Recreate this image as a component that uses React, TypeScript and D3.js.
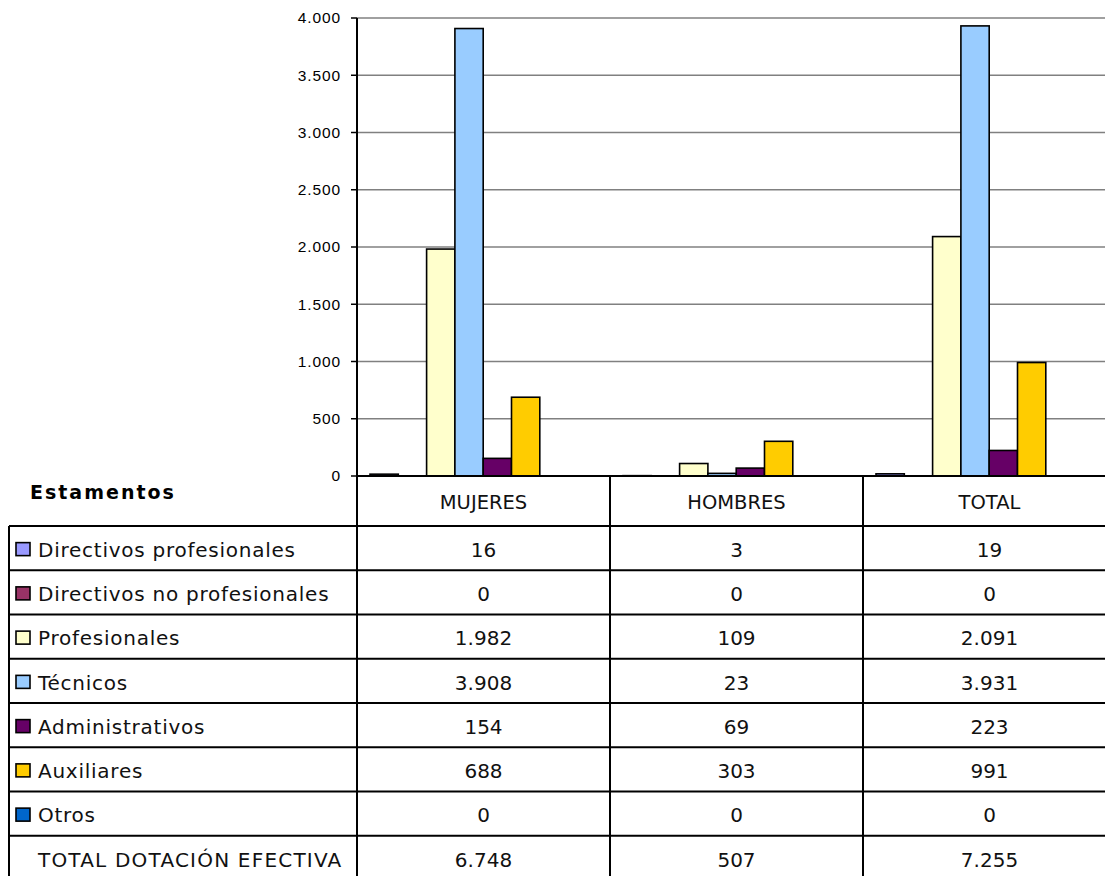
import React, { useEffect } from "react";
import * as d3 from "d3";

const categories = ["MUJERES", "HOMBRES", "TOTAL"];
const series = [
  "Directivos profesionales",
  "Directivos no profesionales",
  "Profesionales",
  "Técnicos",
  "Administrativos",
  "Auxiliares",
  "Otros",
];
const colors = ["#9999FF", "#993366", "#FFFFCC", "#99CCFF", "#660066", "#FFCC00", "#0066CC"];
// values[seriesIndex][categoryIndex]
const values = [
  [16, 3, 19],
  [0, 0, 0],
  [1982, 109, 2091],
  [3908, 23, 3931],
  [154, 69, 223],
  [688, 303, 991],
  [0, 0, 0],
];
const totalLabel = "TOTAL DOTACIÓN EFECTIVA";
const totals = [6748, 507, 7255];
const yTicks = [0, 500, 1000, 1500, 2000, 2500, 3000, 3500, 4000];

const W = 1105;
const H = 876;
const plotLeft = 357;
const colW = 253;
const plotTop = 18;
const plotBottom = 476;
const headerBottom = 526;
const rowH = 44.25;
const tableLeft = 9;

const fmt = (v: number) => d3.format(",")(v).replace(/,/g, ".");

export default function App() {
  useEffect(() => {
    document.body.style.margin = "0";
  }, []);

  const x0 = d3
    .scaleBand<string>()
    .domain(categories)
    .range([plotLeft, plotLeft + colW * categories.length]);
  const x1 = d3
    .scaleBand<string>()
    .domain(series)
    .range([13, 13 + 7 * 28.3]);
  const y = d3.scaleLinear().domain([0, 4000]).range([plotBottom, plotTop]);

  const right = plotLeft + colW * categories.length;
  const rows = [...series, totalLabel];
  const tableBottom = headerBottom + rowH * rows.length;
  const tableFont = "'DejaVu Sans', Verdana, sans-serif";

  return (
    <svg width={W} height={H} style={{ display: "block", background: "#fff" }}>
      {/* gridlines */}
      {yTicks.slice(1).map((t) => (
        <line key={t} x1={plotLeft} x2={right} y1={y(t)} y2={y(t)} stroke="#808080" strokeWidth={1.3} />
      ))}
      {/* y ticks and labels */}
      {yTicks.map((t) => (
        <g key={"t" + t}>
          <line x1={plotLeft - 6} x2={plotLeft} y1={y(t)} y2={y(t)} stroke="#000" strokeWidth={1.5} />
          <text
            x={plotLeft - 16}
            y={y(t)}
            dy="0.35em"
            textAnchor="end"
            fontFamily="'Liberation Sans', Arial, sans-serif"
            fontSize={15.5}
            letterSpacing={0.9}
            fill="#000"
          >
            {fmt(t)}
          </text>
        </g>
      ))}
      {/* bars */}
      {series.map((s, si) =>
        categories.map((c, ci) => {
          const v = values[si][ci];
          if (v === 0) return null;
          const bx = (x0(c) as number) + (x1(s) as number);
          return (
            <rect
              key={s + c}
              x={bx}
              y={y(v)}
              width={x1.bandwidth()}
              height={y(0) - y(v)}
              fill={colors[si]}
              stroke="#000"
              strokeWidth={1.6}
            />
          );
        })
      )}
      {/* y axis line */}
      <line x1={plotLeft} x2={plotLeft} y1={plotTop} y2={tableBottom} stroke="#000" strokeWidth={2} />
      {/* x axis line */}
      <line x1={plotLeft} x2={right} y1={plotBottom} y2={plotBottom} stroke="#000" strokeWidth={2} />

      {/* table */}
      <text
        x={30}
        y={499}
        fontFamily={tableFont}
        fontSize={19}
        fontWeight="bold"
        letterSpacing={2}
        fill="#000"
      >
        Estamentos
      </text>
      {categories.map((c, ci) => (
        <g key={"h" + c}>
          <line
            x1={x0(c) as number}
            x2={x0(c) as number}
            y1={plotBottom}
            y2={tableBottom}
            stroke="#000"
            strokeWidth={2}
          />
          <text
            x={(x0(c) as number) + colW / 2}
            y={(plotBottom + headerBottom) / 2 + 1}
            dy="0.36em"
            textAnchor="middle"
            fontFamily={tableFont}
            fontSize={19.5}
            fill="#111"
          >
            {c}
          </text>
        </g>
      ))}
      <line x1={tableLeft} x2={tableLeft} y1={headerBottom} y2={tableBottom} stroke="#000" strokeWidth={2} />
      {rows.map((r, ri) => {
        const top = headerBottom + rowH * ri;
        const cy = top + rowH / 2 + 1.5;
        const rowVals = ri < series.length ? values[ri] : totals;
        return (
          <g key={"r" + r}>
            <line x1={tableLeft} x2={right} y1={top} y2={top} stroke="#000" strokeWidth={2} />
            {ri < series.length && (
              <rect x={16} y={cy - 7} width={14} height={13} fill={colors[ri]} stroke="#000" strokeWidth={1.6} />
            )}
            <text
              x={38}
              y={cy}
              dy="0.36em"
              fontFamily={tableFont}
              fontSize={20}
              letterSpacing={ri < series.length ? 0.75 : 1.2}
              fill="#111"
            >
              {r}
            </text>
            {categories.map((c, ci) => (
              <text
                key={c}
                x={(x0(c) as number) + colW / 2}
                y={cy}
                dy="0.36em"
                textAnchor="middle"
                fontFamily={tableFont}
                fontSize={20}
                fill="#111"
              >
                {fmt(rowVals[ci])}
              </text>
            ))}
          </g>
        );
      })}
      <line x1={tableLeft} x2={right} y1={tableBottom} y2={tableBottom} stroke="#000" strokeWidth={2} />
    </svg>
  );
}
